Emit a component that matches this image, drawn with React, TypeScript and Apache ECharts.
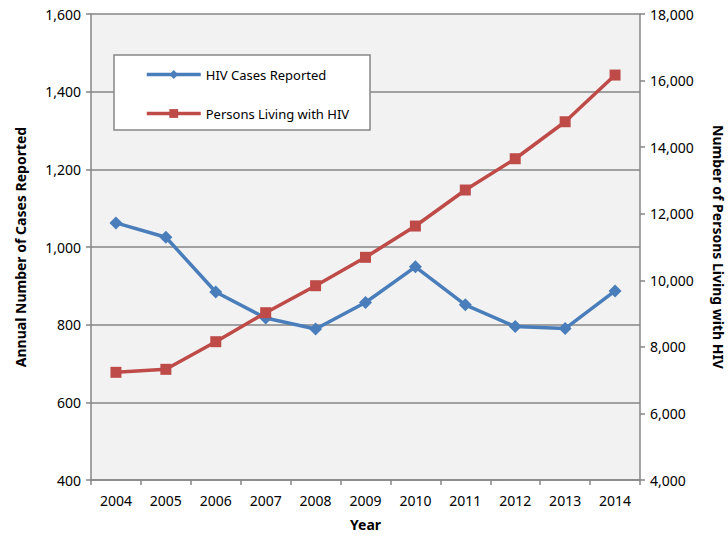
import React, { useEffect, useRef } from "react";
import * as echarts from "echarts";

const years = ["2004", "2005", "2006", "2007", "2008", "2009", "2010", "2011", "2012", "2013", "2014"];
const casesReported = [1062, 1025, 884, 817, 789, 857, 949, 851, 795, 790, 887];
const personsLiving = [7235, 7325, 8155, 9026, 9837, 10690, 11630, 12712, 13652, 14763, 16166];

const FONT = "'Noto Sans', 'Open Sans', sans-serif";
const AXIS_GRAY = "#868686";
const BLUE = "#4a7ebb";
const RED = "#be4b48";

export default function App() {
  const ref = useRef<HTMLDivElement>(null);
  useEffect(() => {
    if (!ref.current) return;
    const chart = echarts.init(ref.current, null, { renderer: "svg" });
    const fmt = (v: number) => v.toLocaleString("en-US");
    chart.setOption({
      animation: false,
      backgroundColor: "#ffffff",
      textStyle: { fontFamily: FONT },
      grid: {
        left: 91,
        right: 88,
        top: 14,
        bottom: 58,
        show: true,
        backgroundColor: "#f2f2f2",
        borderWidth: 0,
        containLabel: false,
        outerBoundsMode: "none",
      },
      graphic: [
        {
          type: "rect",
          z: 3,
          shape: { x: 114, y: 55, width: 256, height: 75 },
          style: { fill: "#ffffff", stroke: AXIS_GRAY, lineWidth: 1.5 },
        },
      ],
      legend: {
        orient: "vertical",
        left: 145,
        top: 68,
        itemWidth: 54,
        itemHeight: 11,
        itemGap: 26,
        padding: 0,
        textStyle: { fontFamily: FONT, fontSize: 13, color: "#000", padding: [0, 0, 0, 0] },
        data: [
          { name: "HIV Cases Reported", lineStyle: { width: 3.5 } },
          { name: "Persons Living with HIV", lineStyle: { width: 3.5 } },
        ],
      },
      xAxis: {
        type: "category",
        data: years,
        boundaryGap: true,
        name: "Year",
        nameLocation: "middle",
        nameGap: 37,
        nameTextStyle: { fontFamily: FONT, fontSize: 14, fontWeight: "bold", color: "#000" },
        axisLine: { lineStyle: { color: AXIS_GRAY, width: 1.5 } },
        axisTick: { show: true, length: 5, inside: false, lineStyle: { color: AXIS_GRAY, width: 1.5 } },
        axisLabel: { fontFamily: FONT, fontSize: 14, color: "#000", margin: 13 },
        splitLine: { show: false },
      },
      yAxis: [
        {
          type: "value",
          min: 400,
          max: 1600,
          interval: 200,
          position: "left",
          name: "Annual Number of Cases Reported",
          nameLocation: "middle",
          nameGap: 64,
          nameTextStyle: { fontFamily: FONT, fontSize: 14, fontWeight: "bold", color: "#000" },
          axisLine: { show: true, lineStyle: { color: AXIS_GRAY, width: 1.5 } },
          axisTick: { show: true, length: 5, inside: false, lineStyle: { color: AXIS_GRAY, width: 1.5 } },
          axisLabel: { fontFamily: FONT, fontSize: 14, color: "#000", margin: 10, formatter: fmt },
          splitLine: { show: true, lineStyle: { color: AXIS_GRAY, width: 1.5 } },
        },
        {
          type: "value",
          min: 4000,
          max: 18000,
          interval: 2000,
          position: "right",
          name: "Number of Persons Living with HIV",
          nameLocation: "middle",
          nameGap: 71,
          nameRotate: -90,
          nameTextStyle: { fontFamily: FONT, fontSize: 14, fontWeight: "bold", color: "#000" },
          axisLine: { show: true, lineStyle: { color: AXIS_GRAY, width: 1.5 } },
          axisTick: { show: true, length: 5, inside: false, lineStyle: { color: AXIS_GRAY, width: 1.5 } },
          axisLabel: { fontFamily: FONT, fontSize: 14, color: "#000", margin: 10, formatter: fmt },
          splitLine: { show: false },
        },
      ],
      series: [
        {
          name: "HIV Cases Reported",
          type: "line",
          yAxisIndex: 0,
          data: casesReported,
          symbol: "diamond",
          symbolSize: 13,
          lineStyle: { color: BLUE, width: 3.5 },
          itemStyle: { color: BLUE, borderWidth: 0 },
          z: 5,
        },
        {
          name: "Persons Living with HIV",
          type: "line",
          yAxisIndex: 1,
          data: personsLiving,
          symbol: "rect",
          symbolSize: 11,
          lineStyle: { color: RED, width: 3.5 },
          itemStyle: { color: RED, borderWidth: 0 },
          z: 6,
        },
      ],
    });
    return () => chart.dispose();
  }, []);
  return <div ref={ref} style={{ width: 728, height: 538, position: "absolute", left: 0, top: 0 }} />;
}
